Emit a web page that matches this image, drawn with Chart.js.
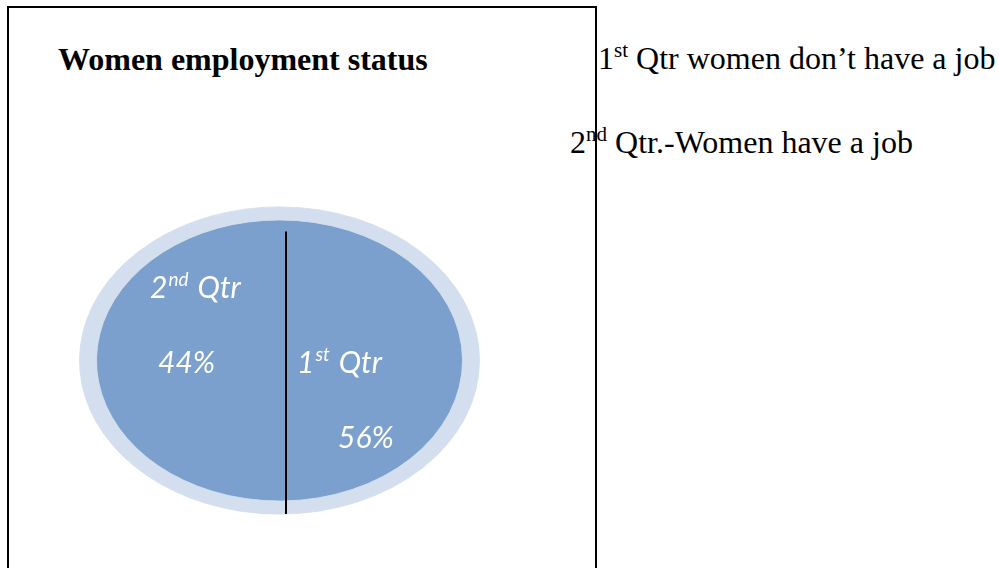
<!DOCTYPE html>
<html>
<head>
<meta charset="utf-8">
<script src="https://cdn.jsdelivr.net/npm/chart.js@4"></script>
<style>
  html, body { margin: 0; padding: 0; background: #fff; width: 999px; height: 568px; overflow: hidden; }
  #frame { position: absolute; left: 7px; top: 6px; width: 586px; height: 700px; border: 2px solid #000; border-bottom: none; z-index: 5; pointer-events: none; }
  #title { position: absolute; left: 58px; top: 43px; font: bold 32px/32px "Liberation Serif", "Times New Roman", serif; color: #000; white-space: nowrap; }
  .note { position: absolute; font: 32px/32px "Liberation Serif", "Times New Roman", serif; color: #000; white-space: nowrap; }
  .sup { position: relative; top: -12px; font-size: 0.66em; }
  #pie { position: absolute; left: 79px; top: 160px; }
</style>
</head>
<body>
<div id="title"></div>
<div id="notes"></div>
<div id="frame"></div>
<canvas id="pie" width="401" height="401"></canvas>
<script>
// ---- data ----
const chartTitle = "Women employment status";
const categories = ["1st Qtr", "2nd Qtr"];
const values = [56, 44];
const notes = ["1st Qtr women don\u2019t have a job", "2nd Qtr.-Women have a job"];

// ---- styles ----
const ringColor = "#D3DFEE";
const fillColor = "#7BA0CD";
const yScale = 154 / 200.5;          // ellipse squash
const ringWeight = 17, fillWeight = 183.5;
const notePos = [{ left: 598, top: 42 }, { left: 570, top: 126 }];
const labelFont = "italic 30px Lato, 'Open Sans', sans-serif";
const supFont = "italic 19px Lato, 'Open Sans', sans-serif";
// label offsets relative to chart centre (name, value) for each category
const labelOffsets = [
  { name: [17.5, 12.5], value: [58.5, 87.5] },
  { name: [-129.5, -62.5], value: [-121.5, 12.5] }
];
const divider = { dx: 6.5, topFrac: -0.84, bottomFrac: 1.0, width: 2 };

function splitOrdinal(s) {
  const m = s.match(/^(\d+)(st|nd|rd|th)(.*)$/);
  return m ? { num: m[1], suf: m[2], rest: m[3] } : { num: s, suf: "", rest: "" };
}
function esc(s) { return s.replace(/&/g, "&amp;").replace(/</g, "&lt;"); }

document.getElementById("title").textContent = chartTitle;
const notesEl = document.getElementById("notes");
notes.forEach((t, i) => {
  const p = splitOrdinal(t);
  const d = document.createElement("div");
  d.className = "note";
  d.style.left = notePos[i].left + "px";
  d.style.top = notePos[i].top + "px";
  d.innerHTML = esc(p.num) + (p.suf ? '<span class="sup">' + esc(p.suf) + '</span>' : '') + esc(p.rest);
  notesEl.appendChild(d);
});

const total = values.reduce((a, b) => a + b, 0);

const squashPlugin = {
  id: "squash",
  beforeDatasetsDraw(chart) {
    const a = chart.chartArea, ctx = chart.ctx;
    const cx = (a.left + a.right) / 2, cy = (a.top + a.bottom) / 2;
    ctx.save();
    ctx.translate(cx, cy); ctx.scale(1, yScale); ctx.translate(-cx, -cy);
  },
  afterDatasetsDraw(chart) {
    const ctx = chart.ctx;
    ctx.restore();
    const arc = chart.getDatasetMeta(0).data[0];
    const cx = arc.x, cy = arc.y;
    const ry = arc.outerRadius * yScale;
    // divider line
    ctx.save();
    ctx.strokeStyle = "#000";
    ctx.lineWidth = divider.width;
    ctx.beginPath();
    ctx.moveTo(Math.round(cx + divider.dx), cy + divider.topFrac * ry);
    ctx.lineTo(Math.round(cx + divider.dx), cy + divider.bottomFrac * ry);
    ctx.stroke();
    // labels
    ctx.fillStyle = "#fff";
    ctx.textBaseline = "alphabetic";
    ctx.textAlign = "left";
    categories.forEach((c, i) => {
      const p = splitOrdinal(c);
      const o = labelOffsets[i];
      let x = cx + o.name[0], y = cy + o.name[1];
      ctx.font = labelFont;
      ctx.fillText(p.num, x, y);
      x += ctx.measureText(p.num).width + 1;
      if (p.suf) {
        ctx.font = supFont;
        ctx.fillText(p.suf, x, y - 12);
        x += ctx.measureText(p.suf).width + 2;
        ctx.font = labelFont;
      }
      ctx.fillText(p.rest, x, y);
      const pct = Math.round(values[i] / total * 100) + "%";
      ctx.fillText(pct, cx + o.value[0], cy + o.value[1]);
    });
    ctx.restore();
  }
};

new Chart(document.getElementById("pie"), {
  type: "doughnut",
  data: {
    labels: categories,
    datasets: [
      { data: values, backgroundColor: ringColor, borderColor: ringColor, borderWidth: 1, weight: ringWeight, hoverOffset: 0, offset: 0 },
      { data: values, backgroundColor: fillColor, borderColor: fillColor, borderWidth: 1, weight: fillWeight, hoverOffset: 0, offset: 0 }
    ]
  },
  options: {
    responsive: false,
    devicePixelRatio: 1,
    animation: false,
    cutout: 0,
    rotation: 0,
    events: [],
    layout: { padding: 0 },
    plugins: { legend: { display: false }, tooltip: { enabled: false }, title: { display: false } }
  },
  plugins: [squashPlugin]
});
</script>
</body>
</html>
